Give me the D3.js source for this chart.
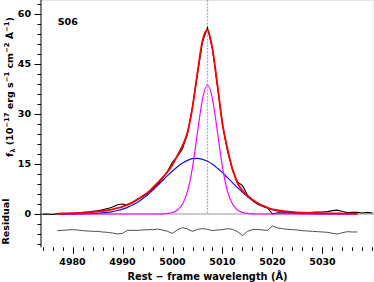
<!DOCTYPE html>
<html><head><meta charset="utf-8">
<script src="https://cdn.jsdelivr.net/npm/d3@7"></script>
<style>
html,body{margin:0;padding:0;background:#fff;}
svg{display:block;}
text{font-family:"DejaVu Sans",sans-serif;font-weight:bold;fill:#000;}
</style></head>
<body>
<svg id="chart" width="374" height="282"></svg>
<script>
// ---- data ----
const modelWave = [4977,4978,4979,4980,4981,4982,4983,4984,4985,4986,4987,4988,4989,4990,4991,4992,4993,4994,4995,4996,4997,4998,4999,5000,5001,5002,5003,5004,5005,5006,5007,5008,5009,5010,5011,5012,5013,5014,5015,5016,5017,5018,5019,5020,5021,5022,5023,5024,5025,5026,5027,5028,5029,5030,5031,5032,5033,5034,5035,5036,5037];
const totalFit = [0.1,0.15,0.2,0.25,0.3,0.4,0.5,0.6,0.75,0.9,1.1,1.4,1.8,2.2,2.8,3.5,4.4,5.4,6.4,7.8,9.3,10.9,12.6,14.8,17.6,20.5,24.5,32.0,42.5,52.0,55.2,49.5,38.5,27.0,19.5,13.5,9.3,7.0,5.5,4.3,3.3,2.5,1.9,1.4,1.15,0.9,0.75,0.6,0.5,0.42,0.36,0.3,0.25,0.22,0.2,0.18,0.16,0.14,0.12,0.11,0.1];
const broadComp = [0.0,0.0,0.01,0.02,0.04,0.06,0.08,0.14,0.21,0.33,0.49,0.72,1.04,1.45,2.0,2.7,3.5,4.6,5.7,7.1,8.5,10.0,11.5,12.9,14.2,15.3,16.1,16.6,16.7,16.4,15.8,14.9,13.7,12.4,10.9,9.4,7.9,6.5,5.2,4.1,3.2,2.4,1.8,1.3,0.9,0.62,0.42,0.28,0.18,0.11,0.07,0.04,0.02,0.01,0.01,0,0,0,0,0,0];
const narrowComp = [0,0,0,0,0,0,0,0,0,0,0,0,0,0,0,0,0,0,0,0,0,0.05,0.15,0.45,1.2,3.0,6.8,14.0,24.5,34.5,38.7,34.5,24.5,14.0,6.8,3.0,1.2,0.45,0.15,0.05,0,0,0,0,0,0,0,0,0,0,0,0,0,0,0,0,0,0,0,0,0];
const residual = [0.0,0.1,0.2,0.3,0.2,0.0,-0.1,-0.2,-0.2,-0.4,-0.5,-0.7,-1.0,-0.8,0.1,0.1,0.1,0.2,0.3,0.3,0.5,0.2,-0.2,-0.8,0.3,0.9,0.5,-0.2,0.4,0.6,0.4,0.0,0.2,0.3,0.6,0.4,-0.3,-1.5,-0.2,0.3,0.4,0.2,0.1,1.4,0.8,0.6,0.4,0.3,0.2,0.0,-0.1,-0.2,-0.3,-0.4,-0.5,-0.8,-1.0,-0.6,-0.3,-0.4,-0.4];
const obsWave = [4974,4975,4976,4977,4978,4979,4980,4981,4982,4983,4984,4985,4986,4987,4988,4989,4990,4991,4992,4993,4994,4995,4996,4997,4998,4999,5000,5001,5002,5003,5004,5005,5006,5007,5008,5009,5010,5011,5012,5013,5014,5015,5016,5017,5018,5019,5020,5021,5022,5023,5024,5025,5026,5027,5028,5029,5030,5031,5032,5033,5034,5035,5036,5037,5038,5039,5040];
const obsFlux = [-0.1,0.0,-0.15,0.1,0.05,0.0,-0.05,0.1,0.4,0.6,0.8,0.95,1.3,1.6,2.1,2.8,3.0,2.7,3.4,4.3,5.2,6.1,7.5,8.8,10.7,12.8,15.6,17.3,19.6,24.0,32.2,42.1,51.6,55.9,49.5,38.3,26.7,18.9,13.1,9.6,8.5,5.7,4.0,2.9,2.3,1.8,0.0,0.35,0.3,0.35,0.3,0.3,0.42,0.46,0.5,0.55,0.62,0.7,1.0,1.16,0.74,0.42,0.5,0.5,0.3,0.5,0.3];
const xMajorTicks = [4980,4990,5000,5010,5020,5030];
const yMajorTicks = [0,15,30,45,60];
const lineCenter = 5007;
const residualOffset = -5;
const panelLabel = "S06";

// ---- layout ----
const svg = d3.select("#chart");
const pL = 41, pR = 374, pT = 0.67, pB = 247.33;
const x = d3.scaleLinear().domain([4973.7, 5040.3]).range([pL, pR]);
const y = d3.scaleLinear().domain([-10, 64]).range([pB, pT]);

svg.append("defs").append("clipPath").attr("id","clip")
  .append("rect").attr("x",pL).attr("y",0).attr("width",pR-pL).attr("height",pB);

// faint frame (top / right)
svg.append("line").attr("x1",pL).attr("x2",pR).attr("y1",0.5).attr("y2",0.5)
  .attr("stroke","#e4e4e4").attr("stroke-width",1);
svg.append("line").attr("x1",373).attr("x2",373).attr("y1",0).attr("y2",pB)
  .attr("stroke","#f0f0f0").attr("stroke-width",1.5);

const plot = svg.append("g").attr("clip-path","url(#clip)");

// zero line
plot.append("line").attr("x1",pL).attr("x2",pR).attr("y1",y(0)).attr("y2",y(0))
  .attr("stroke","#999").attr("stroke-width",1);

// line-center marker
plot.append("line").attr("x1",x(lineCenter)).attr("x2",x(lineCenter)).attr("y1",0).attr("y2",y(0))
  .attr("stroke","#9fa8ff").attr("stroke-width",1.3).attr("stroke-dasharray","2,1.2");

const obs = obsWave.map((w,i)=>[w,obsFlux[i]]);
const model = (arr)=>modelWave.map((w,i)=>[w,arr[i]]);
const lineLin = d3.line().x(d=>x(d[0])).y(d=>y(d[1]));
const lineSm = d3.line().x(d=>x(d[0])).y(d=>y(d[1])).curve(d3.curveMonotoneX);

plot.append("path").attr("d",lineLin(obs)).attr("fill","none").attr("stroke","#000").attr("stroke-width",1.1);
plot.append("path").attr("d",lineSm(model(broadComp))).attr("fill","none").attr("stroke","#1010f0").attr("stroke-width",1.2);
plot.append("path").attr("d",lineSm(model(narrowComp))).attr("fill","none").attr("stroke","#ff00ff").attr("stroke-width",1.2);
plot.append("path").attr("d",lineSm(model(totalFit))).attr("fill","none").attr("stroke","#ff0000").attr("stroke-width",1.8);
plot.append("path").attr("d",lineLin(model(residual.map(v=>v+residualOffset))))
  .attr("fill","none").attr("stroke","#222").attr("stroke-width",0.8);

// y axis
svg.append("line").attr("x1",pL).attr("x2",pL).attr("y1",0).attr("y2",pB)
  .attr("stroke","#000").attr("stroke-width",1);
const yMinor = d3.range(-9, 64, 3);
svg.selectAll(".ytick").data(yMinor).enter().append("line")
  .attr("x1",d=>pL - (yMajorTicks.includes(d)?6.5:3.5)).attr("x2",pL)
  .attr("y1",d=>Math.round(y(d))+0.5).attr("y2",d=>Math.round(y(d))+0.5)
  .attr("stroke","#000").attr("stroke-width",1);
svg.selectAll(".ylab").data(yMajorTicks).enter().append("text")
  .attr("x",31).attr("y",d=>y(d)).attr("dy","0.36em").attr("text-anchor","end")
  .attr("font-size",9.5).text(d=>d);

// x axis ticks
const xMinor = d3.range(4974, 5041, 2);
svg.selectAll(".xtick").data(xMinor).enter().append("line")
  .attr("x1",d=>Math.round(x(d))+0.5).attr("x2",d=>Math.round(x(d))+0.5)
  .attr("y1",pB).attr("y2",d=>pB + (xMajorTicks.includes(d)?6.5:3.5))
  .attr("stroke","#000").attr("stroke-width",1);
svg.selectAll(".xlab").data(xMajorTicks).enter().append("text")
  .attr("x",d=>x(d)).attr("y",265.3).attr("text-anchor","middle")
  .attr("font-size",9.5).text(d=>d);

// axis titles
svg.append("text").attr("x",(pL+pR)/2).attr("y",279.5).attr("text-anchor","middle")
  .attr("font-size",9.8).text("Rest \u2212 frame wavelength (\u00C5)");

const ylab = svg.append("text").attr("transform","translate(12.5,157) rotate(-90)")
  .attr("text-anchor","start").attr("font-size",9.5);
const parts = [["f",0,9.5],["\u03BB",2,6.8],[" (10",-2,9.5],["\u221217",-4,6.8],[" erg s",4,9.5],["\u22121",-4,6.8],[" cm",4,9.5],["\u22122",-4,6.8],[" \u00C5",4,9.5],["\u22121",-4,6.8],[")",4,9.5]];
parts.forEach(p=>ylab.append("tspan").attr("dy",p[1]).attr("font-size",p[2]).text(p[0]));

svg.append("text").attr("transform","translate(8.5,221.5) rotate(-90)")
  .attr("text-anchor","middle").attr("font-size",9.5).text("Residual");

svg.append("text").attr("x",57.7).attr("y",25).attr("font-size",9.5).text(panelLabel);
</script>
</body></html>
